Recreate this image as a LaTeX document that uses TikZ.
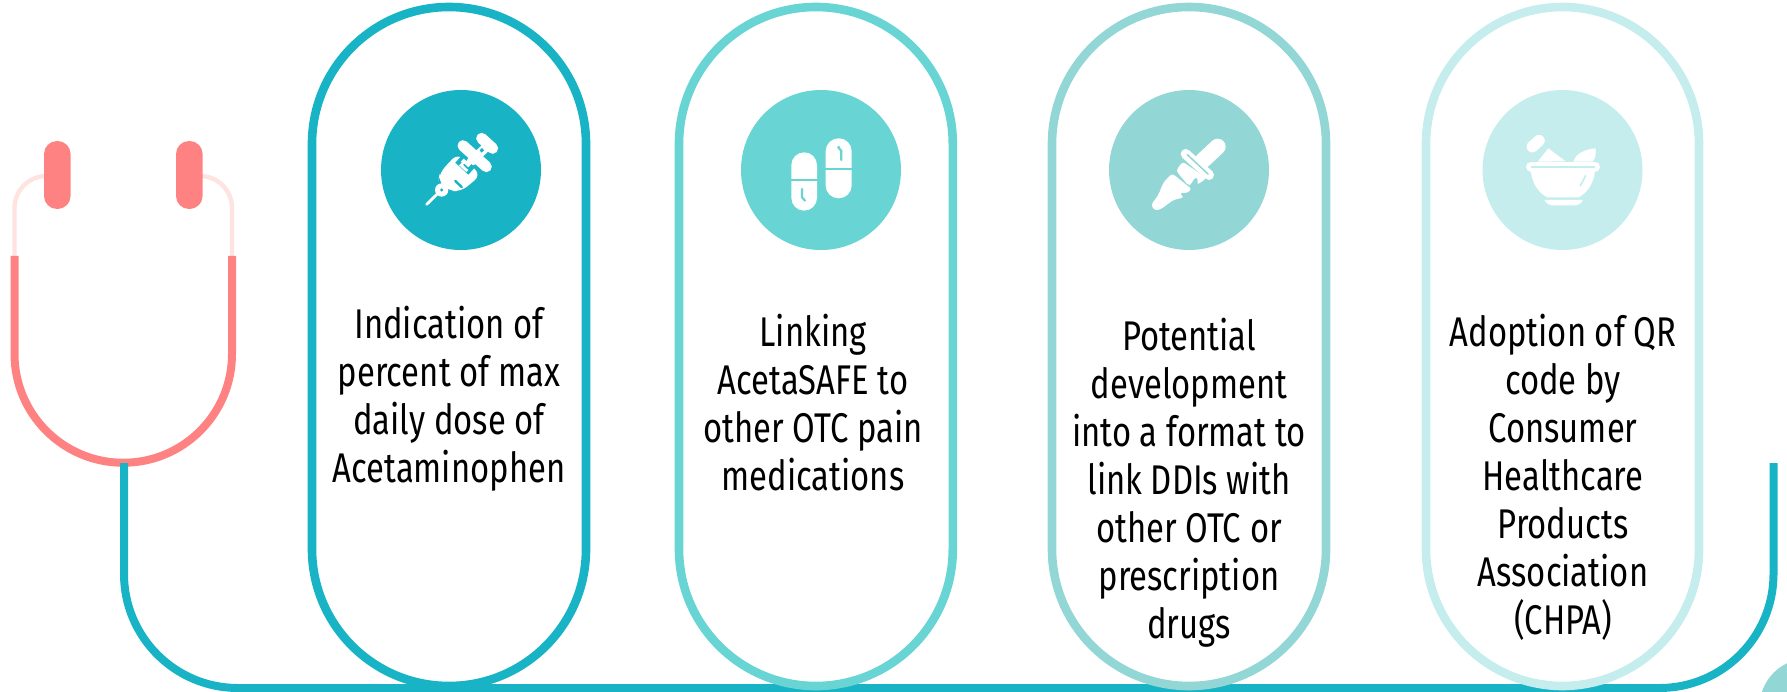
\documentclass[tikz,border=0pt]{standalone}
\usepackage{fontspec}
\setmainfont{Fira Sans}[FakeStretch=0.79]
\definecolor{tA}{HTML}{19B3C6}
\definecolor{tB}{HTML}{68D4D4}
\definecolor{tC}{HTML}{93D6D6}
\definecolor{tD}{HTML}{C5EDED}
\definecolor{red1}{HTML}{FF8282}
\definecolor{red2}{HTML}{FFE3E1}
\tikzset{
  pillbox/.style={line width=8.6pt,rounded corners=136.9pt},
  label/.style={align=center,inner sep=0pt,font=\fontsize{41.5}{48}\selectfont,text=black},
  disc/.style={circle,minimum size=160pt,inner sep=0pt},
  iconzoom/.style={x=0.3333pt,y=-0.3333pt,line cap=round,line join=round}
}
\begin{document}
\begin{tikzpicture}[x=1pt,y=-1pt]
\useasboundingbox (0,0) rectangle (1787,692);
% corner disc
\fill[tC] (1808,707) circle (48.5);
% wire
\coordinate (wireA) at (124,463);
\coordinate (wireB) at (1773.5,463);
% stethoscope
\coordinate (tubeL) at (14.5,256);
\coordinate (tubeR) at (232,256);
\draw[red2,line width=4.4pt] (tubeL) -- (14.5,208) arc[start angle=180,end angle=270,radius=32] -- (57.5,176);
\draw[red2,line width=4.4pt] (tubeR) -- (232,208) arc[start angle=0,end angle=-90,radius=32] -- (189,176);
\draw[red1,line width=8pt] (tubeL) -- (14.5,354) arc[start angle=180,end angle=0,radius=108.75] -- (tubeR);
\draw[tA,line width=8pt,rounded corners=114pt] (wireA) -- (124,688) -- (1773.5,688) -- (wireB);
\fill[red1,rounded corners=13pt] (44,141) rectangle (70.6,209);
\fill[red1,rounded corners=13pt] (176,141) rectangle (202.6,209);
% pills
\draw[tA,pillbox] (312,7) rectangle (586,686);
\draw[tB,pillbox] (679,7) rectangle (952.8,686);
\draw[tC,pillbox] (1052,7) rectangle (1326,686);
\draw[tD,pillbox] (1426,7) rectangle (1699,686);
% discs
\node[disc,fill=tA] (d1) at (461,170) {};
\node[disc,fill=tB] (d2) at (821,170) {};
\node[disc,fill=tC] (d3) at (1189,170) {};
\node[disc,fill=tD] (d4) at (1562.5,170) {};
% texts
\node[label] (t1) at (449,399) {Indication of\\percent of max\\daily dose of\\Acetaminophen};
\node[label] (t2) at (813,403) {Linking\\AcetaSAFE to\\other OTC pain\\medications};
\node[label] (t3) at (1189,483) {Potential\\development\\into a format to\\link DDIs with\\other OTC or\\prescription\\drugs};
\node[label] (t4) at (1563,477) {Adoption of QR\\code by\\Consumer\\Healthcare\\Products\\Association\\(CHPA)};
% syringe
\begin{scope}[shift={(411,120)},iconzoom]
\draw[white,line width=2.8pt] (47,253) -- (85,216);
\fill[white] (92,210) circle (20);
\fill[white,rounded corners=8pt] (140,100) -- (210,165) -- (150,215) -- (112,212) -- (82,185) -- (86,158) -- cycle;
\draw[white,line width=11pt] (156,77) -- (226,140);
\draw[white,line width=9pt] (180,125) -- (222,85);
\draw[white,line width=11pt] (212,55) -- (245,85);
\fill[tA] (92,210) circle (5);
\fill[tA] (206,91) -- (213,84) -- (219,91) -- (212,98) -- cycle;
\fill[tA] (133,128) -- (152,107) -- (192,142) -- (172,164) -- cycle;
\fill[white] (150,124) -- (158,116) -- (166,123) -- (170,120) -- (182,131) -- (172,142) -- (160,131) -- (156,135) -- (172,150) -- (166,156) -- (144,136) -- (152,128) -- cycle;
\draw[tA,line width=2.4pt] (133,183) -- (152,201);
\end{scope}
% capsules
\begin{scope}[shift={(773,120)},iconzoom]
\fill[white,rounded corners=12.8pt] (55,97) rectangle (132,272);
\fill[white,rounded corners=12.8pt] (158,55) rectangle (236,235);
\draw[tB,line width=1.7pt,line cap=butt] (50,180) -- (137,180);
\draw[tB,line width=1.7pt,line cap=butt] (153,146) -- (241,146);
\draw[tB,line width=2.2pt] (87,207) -- (87,232) -- (96,242);
\draw[tB,line width=2.2pt] (198,85) -- (205,92) -- (205,120);
\fill[tB] (197,82) circle (5);
\end{scope}
% dropper
\begin{scope}[shift={(1140,120)},iconzoom]
\draw[white,line width=16pt] (188,122) -- (233,80);
\fill[white,rounded corners=3pt] (128,125) -- (200,175) -- (170,195) -- (176,178) -- (166,170) -- (155,190) -- (146,198) -- (108,152) -- cycle;
\fill[white,rounded corners=3pt] (96,160) -- (156,208) -- (135,222) -- (124,214) -- (120,225) -- (133,232) -- (100,240) -- (62,268) -- (44,272) -- (33,255) -- (55,225) -- (70,188) -- cycle;
\draw[white,line width=10pt] (137,102) -- (207,165);
\draw[tC,line width=1.5pt] (142,104) -- (204,162);
\end{scope}
% mortar
\begin{scope}[shift={(1515,120)},iconzoom]
\draw[white,line width=11.5pt] (52,80) -- (72,62);
\fill[white] (68,125) -- (100,85) -- (152,124) -- cycle;
\fill[white] (175,125) .. controls (180,105) and (205,88) .. (242,85) .. controls (243,100) and (242,115) .. (233,125) -- cycle;
\fill[white] (47,150) -- (240,150) .. controls (238,190) and (215,220) .. (190,232) -- (97,232) .. controls (72,220) and (50,190) .. (47,150) -- cycle;
\draw[white,line width=10pt] (48,140) -- (240,140);
\draw[tD,line width=1.7pt] (50,140) -- (238,140);
\draw[tD,line width=1.6pt] (212,167) -- (196,197);
\fill[white,rounded corners=2pt] (86,240) -- (206,240) -- (190,256) -- (103,256) -- cycle;
\end{scope}
\end{tikzpicture}
\end{document}
